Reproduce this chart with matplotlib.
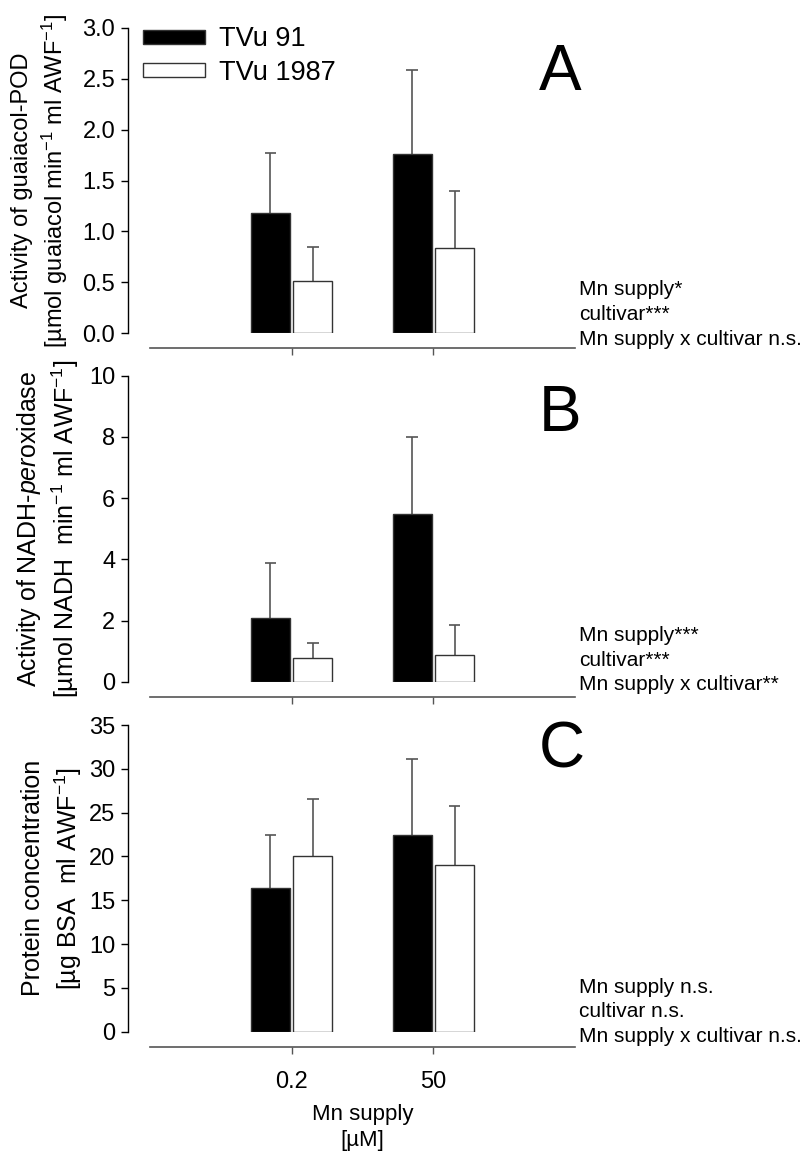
import numpy as np
import matplotlib
matplotlib.use('Agg')
import matplotlib.pyplot as plt

plt.rcParams['font.family'] = ['Liberation Sans', 'DejaVu Sans']
plt.rcParams['mathtext.fontset'] = 'custom'
plt.rcParams['mathtext.rm'] = 'Liberation Sans'
plt.rcParams['mathtext.it'] = 'Liberation Sans:italic'
plt.rcParams['mathtext.default'] = 'regular'

# Mn supply levels and cultivars
mn_supply = ['0.2', '50']
cultivars = ['TVu 91', 'TVu 1987']

# A: guaiacol-POD activity (mean, SD)
pod_tvu91 = [1.18, 1.76]
pod_tvu91_sd = [0.59, 0.83]
pod_tvu1987 = [0.51, 0.84]
pod_tvu1987_sd = [0.34, 0.56]

# B: NADH-peroxidase activity
nadh_tvu91 = [2.07, 5.48]
nadh_tvu91_sd = [1.82, 2.52]
nadh_tvu1987 = [0.77, 0.87]
nadh_tvu1987_sd = [0.49, 0.98]

# C: protein concentration
prot_tvu91 = [16.4, 22.5]
prot_tvu91_sd = [6.1, 8.6]
prot_tvu1987 = [20.1, 19.0]
prot_tvu1987_sd = [6.5, 6.7]

sig_a = ['Mn supply*', 'cultivar***', 'Mn supply x cultivar n.s.']
sig_b = ['Mn supply***', 'cultivar***', 'Mn supply x cultivar**']
sig_c = ['Mn supply n.s.', 'cultivar n.s.', 'Mn supply x cultivar n.s.']

panels = [
    dict(v1=pod_tvu91, e1=pod_tvu91_sd, v2=pod_tvu1987, e2=pod_tvu1987_sd,
         ylim=3.0, yticks=np.arange(0, 3.01, 0.5), fmt='{:.1f}',
         ylabel='Activity of guaiacol-POD\n[µmol guaiacol min$^{-1}$ ml AWF$^{-1}$]',
         ylab_x=-0.258, ylab_size=17, letter='A', letter_y=0.797, sig=sig_a, sig_y=-0.052,
         rect=[150 / 809, 1 - 333 / 1151, 425 / 809, 305 / 1151]),
    dict(v1=nadh_tvu91, e1=nadh_tvu91_sd, v2=nadh_tvu1987, e2=nadh_tvu1987_sd,
         ylim=10, yticks=np.arange(0, 10.1, 2), fmt='{:.0f}',
         ylabel='Activity of NADH-$\\it{per}$oxidase\n[µmol NADH  min$^{-1}$ ml AWF$^{-1}$]',
         ylab_x=-0.24, ylab_size=18, letter='B', letter_y=0.819, sig=sig_b, sig_y=-0.041,
         rect=[150 / 809, 1 - 681.7 / 1151, 425 / 809, 306 / 1151]),
    dict(v1=prot_tvu91, e1=prot_tvu91_sd, v2=prot_tvu1987, e2=prot_tvu1987_sd,
         ylim=35, yticks=np.arange(0, 35.1, 5), fmt='{:.0f}',
         ylabel='Protein concentration\n[µg BSA  ml AWF$^{-1}$]',
         ylab_x=-0.23, ylab_size=18, letter='C', letter_y=0.863, sig=sig_c, sig_y=-0.047,
         rect=[150 / 809, 1 - 1031.7 / 1151, 425 / 809, 306.7 / 1151]),
]

fig = plt.figure(figsize=(8.09, 11.51), dpi=100)

x = np.arange(len(mn_supply))
width = 0.275
offset = 0.15
cap = 0.04
err_color = '#555555'

for i, p in enumerate(panels):
    ax = fig.add_axes(p['rect'])
    ax.bar(x - offset, p['v1'], width, color='black', edgecolor='#333333',
           linewidth=1.0, zorder=3, label=cultivars[0])
    ax.bar(x + offset, p['v2'], width, color='white', edgecolor='#333333',
           linewidth=1.0, zorder=3, label=cultivars[1])
    # upper error bars only
    for xs, vals, errs in [(x - offset, p['v1'], p['e1']), (x + offset, p['v2'], p['e2'])]:
        vals = np.array(vals)
        tops = vals + np.array(errs)
        ax.vlines(xs, vals, tops, color=err_color, linewidth=1.2, zorder=2)
        ax.hlines(tops, xs - cap, xs + cap, color=err_color, linewidth=1.2, zorder=2)

    ax.set_xlim(-1, 2)
    ax.set_ylim(0, p['ylim'])
    ax.set_yticks(p['yticks'])
    ax.set_yticklabels([p['fmt'].format(t) for t in p['yticks']])
    ax.set_xticks(x)
    if i == 2:
        ax.set_xticklabels(mn_supply)
        ax.set_xlabel('Mn supply\n[µM]', fontsize=16, labelpad=8, linespacing=1.35)
    else:
        ax.set_xticklabels([])

    for s in ['top', 'right']:
        ax.spines[s].set_visible(False)
    ax.spines['left'].set_position(('outward', 16))
    ax.spines['bottom'].set_position(('outward', 11))
    ax.spines['bottom'].set_color('#555555')
    ax.spines['left'].set_linewidth(1.0)
    ax.spines['bottom'].set_linewidth(1.2)
    ax.tick_params(axis='y', direction='out', length=5, width=1, pad=4, labelsize=17)
    ax.tick_params(axis='x', direction='out', length=5, width=1, pad=12,
                   color='#555555', labelsize=17)

    ax.text(p['ylab_x'], 0.5, p['ylabel'], transform=ax.transAxes, rotation=90,
            ha='center', va='center', fontsize=p['ylab_size'], linespacing=1.3,
            multialignment='center')
    ax.text(0.915, p['letter_y'], p['letter'], transform=ax.transAxes,
            ha='left', va='baseline', fontsize=46)
    ax.text(1.0094, p['sig_y'], '\n'.join(p['sig']), transform=ax.transAxes,
            ha='left', va='bottom', fontsize=15, linespacing=1.38)

    if i == 0:
        ax.legend(loc='upper left', bbox_to_anchor=(-0.016, 1.005), frameon=False,
                  fontsize=19.5, handlelength=2.3, handleheight=0.42, handletextpad=0.5,
                  labelspacing=0.28, borderaxespad=0, borderpad=0)

fig.savefig('out.png', dpi=100)
